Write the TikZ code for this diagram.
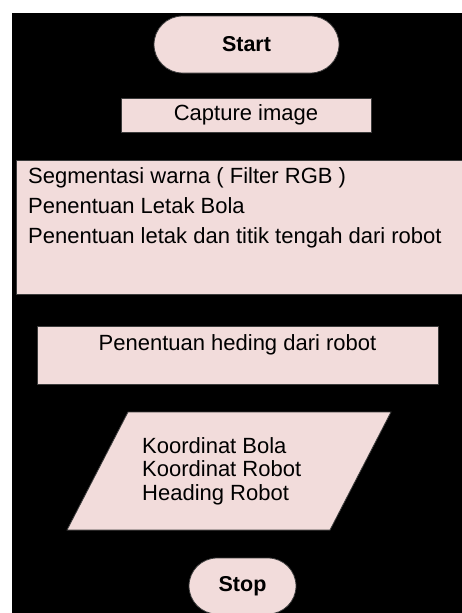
\documentclass[tikz,border=0pt]{standalone}
\usepackage{fontspec}
\setmainfont{Liberation Sans}
\usetikzlibrary{shapes.misc}
\definecolor{boxfill}{RGB}{242,220,219}
\definecolor{boxline}{RGB}{60,60,60}
\tikzset{
  terminal/.style={rounded rectangle, draw=boxline, fill=boxfill, line width=0.8pt,
                   inner sep=0pt, font=\fontsize{21.5}{25}\selectfont\bfseries},
  block/.style={rectangle, draw=boxline, fill=boxfill, line width=0.8pt,
                inner sep=0pt, font=\fontsize{22}{25}\selectfont},
  ioshape/.style={draw=boxline, fill=boxfill, line width=0.8pt},
  txt/.style={inner sep=0pt, font=\fontsize{22}{25}\selectfont},
}

\begin{document}
\begin{tikzpicture}[x=1pt, y=-1pt]
  \useasboundingbox (0,0) rectangle (462,613);
  % background
  \fill[black] (12,13) rectangle (462,613);

  % Start
  \node[terminal, minimum width=185pt, minimum height=57pt] (start) at (246.5,44.5) {Start};

  % Capture image
  \node[block, minimum width=250pt, minimum height=34pt] (capture) at (246,115) {Capture image};

  % Segmentasi
  \node[block, minimum width=454pt, minimum height=134pt, anchor=north west] (seg) at (16,160) {};
  \foreach \i/\y/\lbl in {1/183/Segmentasi warna ( Filter RGB ),
                          2/213/Penentuan Letak Bola,
                          3/243/Penentuan letak dan titik tengah dari robot}{
    \node[txt, anchor=base west] (seg\i) at (28,\y) {\lbl};
  }

  % Heading
  \node[block, minimum width=401pt, minimum height=58pt] (heading) at (237.5,355) {};
  \node[txt, anchor=base] (headingtxt) at (237.5,350) {Penentuan heding dari robot};

  % Output
  \draw[ioshape] (128,412) -- (391,412) -- (330,530) -- (67,530) -- cycle;
  \node[txt, align=left, anchor=west, font=\fontsize{22}{23.5}\selectfont] (output) at (142,471)
    {Koordinat Bola\\Koordinat Robot\\Heading Robot};

  % Stop
  \node[terminal, minimum width=107pt, minimum height=56pt] (stop) at (242.5,586) {Stop};
\end{tikzpicture}
\end{document}
